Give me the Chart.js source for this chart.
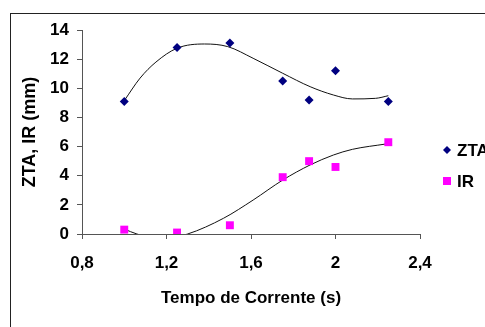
<!DOCTYPE html>
<html>
<head>
<meta charset="utf-8">
<script src="https://cdn.jsdelivr.net/npm/chart.js@4/dist/chart.umd.min.js"></script>
<style>
  html, body { margin: 0; padding: 0; background: #fff; overflow: hidden; }
  #wrap { position: relative; width: 485px; height: 327px; }
  #frame { position: absolute; left: 10px; top: 13px; width: 600px; height: 400px; border: 1px solid #222; box-sizing: border-box; }
  canvas { position: absolute; left: 0; top: 0; }
</style>
</head>
<body>
<div id="wrap">
  <div id="frame"></div>
  <canvas id="chart" width="485" height="327"></canvas>
</div>
<script>
// tempo de corrente (s)
var tempo = [1.0, 1.25, 1.5, 1.75, 1.875, 2.0, 2.25];
var zta = [9.1, 12.8, 13.1, 10.5, 9.2, 11.2, 9.1];
var ir = [0.3, 0.1, 0.6, 3.9, 5.0, 4.6, 6.3];

// trend lines
var ztaTrendX = [1.0, 1.075, 1.15, 1.25, 1.38, 1.49, 1.61, 1.75, 1.88, 1.99, 2.08, 2.19, 2.25];
var ztaTrendY = [9.15, 10.7, 11.8, 12.75, 13.04, 12.86, 12.06, 11.03, 10.11, 9.54, 9.27, 9.31, 9.49];
var irTrendX = [1.0, 1.06, 1.18, 1.3, 1.47, 1.61, 1.75, 1.88, 1.99, 2.08, 2.24];
var irTrendY = [0.34, 0.0, -0.35, 0.0, 1.08, 2.33, 3.7, 4.74, 5.42, 5.81, 6.18];

var xTicks = [0.8, 1.2, 1.6, 2.0, 2.4];
var yTicks = [0, 2, 4, 6, 8, 10, 12, 14];

function pts(xs, ys) {
    return xs.map(function (x, i) { return { x: x, y: ys[i] }; });
}

var fontFam = "'Liberation Sans', Arial, sans-serif";
var axisColor = "#555";

var legendPlugin = {
    id: "sideLegend",
    afterDraw: function (chart) {
        var ctx = chart.ctx;
        var items = [chart.data.datasets[0], chart.data.datasets[1]];
        ctx.save();
        ctx.font = "bold 17px " + fontFam;
        ctx.textBaseline = "middle";
        ctx.fillStyle = "#000";
        items.forEach(function (ds, i) {
            var y = 150 + i * 31;
            ctx.fillStyle = ds.backgroundColor;
            if (ds.pointStyle === "rectRot") {
                ctx.beginPath();
                ctx.moveTo(447, y - 4);
                ctx.lineTo(451, y);
                ctx.lineTo(447, y + 4);
                ctx.lineTo(443, y);
                ctx.closePath();
                ctx.fill();
            } else {
                ctx.fillRect(443, y - 4, 8, 8);
            }
            ctx.fillStyle = "#000";
            ctx.fillText(ds.label, 457, y + 1);
        });
        ctx.restore();
    }
};

var chart = new Chart(
    document.getElementById("chart"),
    {
        "type": "scatter",
        "data": {
            "datasets": [
                {
                    "label": "ZTA",
                    "data": pts(tempo, zta),
                    "pointStyle": "rectRot",
                    "pointRadius": 4.5,
                    "backgroundColor": "#000080",
                    "borderColor": "#000080",
                    "borderWidth": 0,
                    "order": 0
                },
                {
                    "label": "IR",
                    "data": pts(tempo, ir),
                    "pointStyle": "rect",
                    "pointRadius": 5.6,
                    "backgroundColor": "#FF00FF",
                    "borderColor": "#FF00FF",
                    "borderWidth": 0,
                    "order": 0
                },
                {
                    "label": "trend ZTA",
                    "data": pts(ztaTrendX, ztaTrendY),
                    "showLine": true,
                    "pointRadius": 0,
                    "borderColor": "#111",
                    "borderWidth": 1,
                    "cubicInterpolationMode": "monotone",
                    "order": 1
                },
                {
                    "label": "trend IR",
                    "data": pts(irTrendX, irTrendY),
                    "showLine": true,
                    "pointRadius": 0,
                    "borderColor": "#111",
                    "borderWidth": 1,
                    "cubicInterpolationMode": "monotone",
                    "order": 1
                }
            ]
        },
        "options": {
            "responsive": false,
            "animation": false,
            "devicePixelRatio": 1,
            "layout": { "padding": { "left": 10, "right": 65, "top": 30, "bottom": 10 } },
            "plugins": {
                "legend": { "display": false },
                "tooltip": { "enabled": false }
            },
            "scales": {
                "x": {
                    "type": "linear",
                    "min": 0.8,
                    "max": 2.4,
                    "afterBuildTicks": function (s) { s.ticks = xTicks.map(function (v) { return { value: v }; }); },
                    "afterFit": function (s) { s.height = 327 - 234 - 10; },
                    "grid": { "drawOnChartArea": false, "color": axisColor, "tickLength": 5 },
                    "border": { "color": axisColor, "width": 1 },
                    "ticks": {
                        "color": "#000",
                        "padding": 14,
                        "font": { "family": fontFam, "size": 17, "weight": "bold" },
                        "callback": function (v) { return String(Math.round(v * 10) / 10).replace(".", ","); }
                    },
                    "title": {
                        "display": true,
                        "text": "Tempo de Corrente (s)",
                        "color": "#000",
                        "padding": { "top": 0, "bottom": 8 },
                        "font": { "family": fontFam, "size": 17, "weight": "bold" }
                    }
                },
                "y": {
                    "type": "linear",
                    "min": 0,
                    "max": 14,
                    "afterBuildTicks": function (s) { s.ticks = yTicks.map(function (v) { return { value: v }; }); },
                    "afterFit": function (s) { s.width = 82 - 10; },
                    "grid": { "drawOnChartArea": false, "color": axisColor, "tickLength": 5 },
                    "border": { "color": axisColor, "width": 1 },
                    "ticks": {
                        "color": "#000",
                        "padding": 8,
                        "font": { "family": fontFam, "size": 17, "weight": "bold" }
                    },
                    "title": {
                        "display": true,
                        "text": "ZTA, IR (mm)",
                        "color": "#000",
                        "padding": { "top": 9, "bottom": 0 },
                        "font": { "family": fontFam, "size": 18, "weight": "bold" }
                    }
                }
            }
        },
        "plugins": [legendPlugin]
    });
</script>
</body>
</html>
